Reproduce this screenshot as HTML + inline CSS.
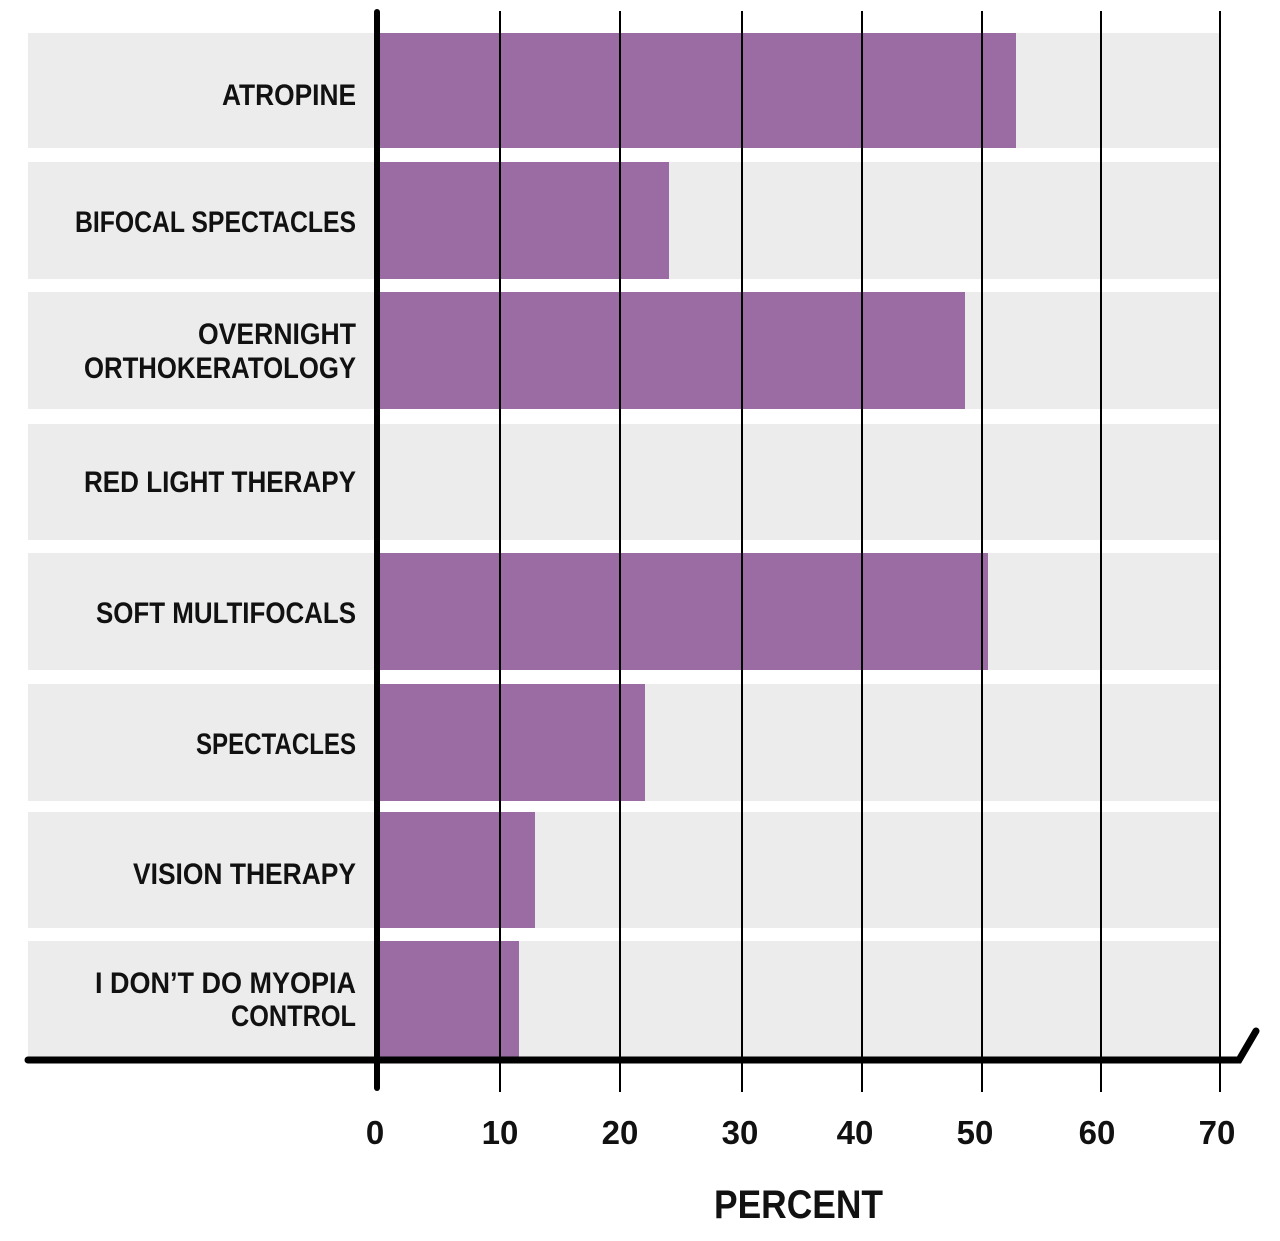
<!DOCTYPE html>
<html><head><meta charset="utf-8"><style>
html,body{margin:0;padding:0;background:#fff}
svg{display:block}
text{font-family:"Liberation Sans Narrow","Liberation Sans",sans-serif;font-weight:bold;fill:#111}
</style></head><body>
<svg width="1280" height="1241" viewBox="0 0 1280 1241" xmlns="http://www.w3.org/2000/svg">
<g fill="#ebeceb">
<rect x="28" y="33" width="1192" height="115"/>
<rect x="28" y="162" width="1192" height="117"/>
<rect x="28" y="292" width="1192" height="117"/>
<rect x="28" y="424" width="1192" height="116"/>
<rect x="28" y="553" width="1192" height="117"/>
<rect x="28" y="684" width="1192" height="117"/>
<rect x="28" y="812" width="1192" height="116"/>
<rect x="28" y="941" width="1192" height="116"/>
</g>
<g fill="#9a6ca3">
<rect x="378" y="33" width="638" height="115"/>
<rect x="378" y="162" width="291" height="117"/>
<rect x="378" y="292" width="587" height="117"/>
<rect x="378" y="553" width="610" height="117"/>
<rect x="378" y="684" width="267" height="117"/>
<rect x="378" y="812" width="157" height="116"/>
<rect x="378" y="941" width="141" height="116"/>
</g>
<g stroke="#000" stroke-width="2">
<line x1="500" y1="11" x2="500" y2="1092"/>
<line x1="620" y1="11" x2="620" y2="1092"/>
<line x1="742" y1="11" x2="742" y2="1092"/>
<line x1="862" y1="11" x2="862" y2="1092"/>
<line x1="982" y1="11" x2="982" y2="1092"/>
<line x1="1101" y1="11" x2="1101" y2="1092"/>
<line x1="1220" y1="11" x2="1220" y2="1092"/>
</g>
<line x1="377" y1="12" x2="377" y2="1088" stroke="#000" stroke-width="6" stroke-linecap="round"/>
<polyline points="28,1060 1239,1060 1256,1031" fill="none" stroke="#000" stroke-width="7" stroke-linecap="round" stroke-linejoin="miter"/>
<g font-size="30" lengthAdjust="spacingAndGlyphs">
<text x="222" y="105" textLength="134" lengthAdjust="spacingAndGlyphs">ATROPINE</text>
<text x="75" y="232" textLength="281" lengthAdjust="spacingAndGlyphs">BIFOCAL SPECTACLES</text>
<text x="198" y="344" textLength="158" lengthAdjust="spacingAndGlyphs">OVERNIGHT</text>
<text x="84" y="378" textLength="272" lengthAdjust="spacingAndGlyphs">ORTHOKERATOLOGY</text>
<text x="84" y="492" textLength="272" lengthAdjust="spacingAndGlyphs">RED LIGHT THERAPY</text>
<text x="96" y="623" textLength="260" lengthAdjust="spacingAndGlyphs">SOFT MULTIFOCALS</text>
<text x="196" y="754" textLength="160" lengthAdjust="spacingAndGlyphs">SPECTACLES</text>
<text x="133" y="884" textLength="223" lengthAdjust="spacingAndGlyphs">VISION THERAPY</text>
<text x="95" y="993" textLength="261" lengthAdjust="spacingAndGlyphs">I DON’T DO MYOPIA</text>
<text x="231" y="1026" textLength="125" lengthAdjust="spacingAndGlyphs">CONTROL</text>
</g>
<g font-size="33" text-anchor="middle">
<text x="375" y="1144">0</text>
<text x="500" y="1144">10</text>
<text x="620" y="1144">20</text>
<text x="740" y="1144">30</text>
<text x="855" y="1144">40</text>
<text x="975" y="1144">50</text>
<text x="1097" y="1144">60</text>
<text x="1217" y="1144">70</text>
</g>
<text x="714" y="1218" font-size="40" textLength="169" lengthAdjust="spacingAndGlyphs">PERCENT</text>
</svg>
</body></html>
